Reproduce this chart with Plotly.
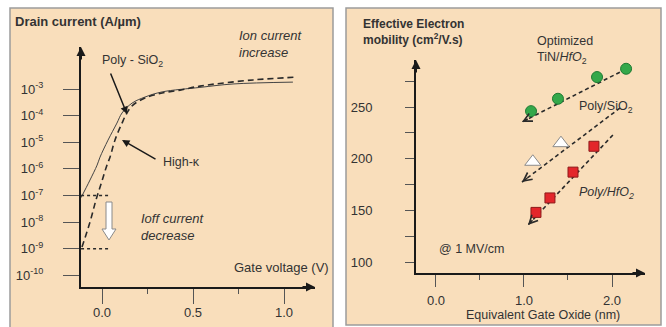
import plotly.graph_objects as go

W, H = 666, 327

# ---- Left panel: drain current vs gate voltage ----
vg_poly = [-0.115, -0.066, -0.027, -0.011, 0.033, 0.082, 0.110, 0.165, 0.236, 0.330, 0.538, 0.720, 1.049]
id_poly = [8.3e-8, 3.8e-7, 1.38e-6, 2.75e-6, 1.2e-5, 5.25e-5, 1.26e-4, 2.95e-4, 5.0e-4, 7.8e-4, 1.15e-3, 1.55e-3, 1.82e-3]

vg_highk = [-0.110, -0.066, -0.033, 0.0, 0.027, 0.044, 0.071, 0.110, 0.137, 0.170, 0.236, 0.330, 0.429, 0.538, 0.830, 1.071]
id_highk = [1.15e-9, 1.0e-8, 6.8e-8, 3.5e-7, 1.38e-6, 2.75e-6, 1.2e-5, 5.25e-5, 1.26e-4, 2.5e-4, 4.6e-4, 7.1e-4, 9.1e-4, 1.29e-3, 2.2e-3, 2.8e-3]

# off-current reference levels and the gate-voltage span they are marked over
ioff_levels = [1e-7, 1e-9]
ioff_vg = [-0.115, 0.044]

id_exponents = [-3, -4, -5, -6, -7, -8, -9, -10]
vg_ticks = [0.0, 0.5, 1.0]
vg_minor = [0.25, 0.75]

# ---- Right panel: mobility vs equivalent oxide thickness ----
eot_tin = [1.08, 1.386, 1.83, 2.16]
mu_tin = [246, 258, 279, 287]
eot_sio2 = [1.10, 1.42]
mu_sio2 = [197, 215]
eot_hfo2 = [1.136, 1.295, 1.557, 1.795]
mu_hfo2 = [148, 162, 187, 212]

# trend lines (start, arrow tip)
trend_tin_x = [2.16, 0.977]
trend_tin_y = [286.8, 235.5]
trend_sio2_x = [2.09, 0.977]
trend_sio2_y = [249, 177.4]
trend_hfo2_x = [2.01, 1.045]
trend_hfo2_y = [222.9, 135.8]

eot_ticks = [0.0, 1.0, 2.0]
eot_minor = [0.5, 1.5]
mu_ticks = [100, 150, 200, 250]
mu_minor = [125, 175, 225, 275]

PANEL = "#F9DEBB"
BORDER = "#9C9C9C"
INK = "#333333"
FONT = "Liberation Sans, Arial, sans-serif"


def px(x):
    return x / W


def py(y):
    return 1 - y / H


fig = go.Figure()

fig.add_trace(go.Scatter(x=vg_poly, y=id_poly, mode="lines",
                         line=dict(color="#444444", width=1, shape="spline"),
                         xaxis="x", yaxis="y", showlegend=False))
fig.add_trace(go.Scatter(x=vg_highk, y=id_highk, mode="lines",
                         line=dict(color="#2a2a2a", width=1.6, shape="spline", dash="6px,4px"),
                         xaxis="x", yaxis="y", showlegend=False))
for lvl in ioff_levels:
    fig.add_trace(go.Scatter(x=ioff_vg, y=[lvl, lvl], mode="lines",
                             line=dict(color="#2a2a2a", width=1.4, dash="3px,3px"),
                             xaxis="x", yaxis="y", showlegend=False))

# trend lines on the right panel
for tx, ty in [(trend_tin_x, trend_tin_y), (trend_sio2_x, trend_sio2_y), (trend_hfo2_x, trend_hfo2_y)]:
    fig.add_trace(go.Scatter(x=tx, y=ty, mode="lines",
                             line=dict(color="#2a2a2a", width=1.6, dash="4px,3px"),
                             xaxis="x2", yaxis="y2", showlegend=False))

fig.add_trace(go.Scatter(x=eot_tin, y=mu_tin, mode="markers",
                         marker=dict(symbol="circle", size=11, color="#34A84A",
                                     line=dict(color="#1E7A32", width=1)),
                         xaxis="x2", yaxis="y2", showlegend=False))
fig.add_trace(go.Scatter(x=eot_sio2, y=mu_sio2, mode="markers",
                         marker=dict(symbol="triangle-up", size=14, color="#FFFFFF",
                                     line=dict(color="#8A8A8A", width=1)),
                         xaxis="x2", yaxis="y2", showlegend=False))
fig.add_trace(go.Scatter(x=eot_hfo2, y=mu_hfo2, mode="markers",
                         marker=dict(symbol="square", size=10, color="#E3262B",
                                     line=dict(color="#8E1A1A", width=1)),
                         xaxis="x2", yaxis="y2", showlegend=False))

tickfont = dict(family=FONT, size=13, color=INK)

fig.update_layout(
    width=W, height=H, margin=dict(l=0, r=0, t=0, b=0),
    paper_bgcolor="white", plot_bgcolor="rgba(0,0,0,0)",
    font=dict(family=FONT, color=INK),
    xaxis=dict(domain=[px(81), px(315)], range=[-0.1154, 1.1703],
               showgrid=False, zeroline=False, showline=True, linecolor="#1a1a1a", linewidth=2,
               ticks="outside", ticklen=15, tickwidth=1, tickcolor="#555555",
               tickvals=vg_ticks, ticktext=[f"{v:.1f}" for v in vg_ticks], tickfont=tickfont,
               ticklabelstandoff=-3,
               minor=dict(tickvals=vg_minor, ticklen=5, ticks="outside", tickcolor="#555555", tickwidth=1),
               anchor="y", fixedrange=True),
    yaxis=dict(domain=[py(287), py(47)], type="log", range=[-10.44, -1.42],
               showgrid=False, zeroline=False, showline=True, linecolor="#1a1a1a", linewidth=2,
               ticks="outside", ticklen=16, tickwidth=1, tickcolor="#555555",
               tickvals=[10.0 ** e for e in id_exponents],
               ticktext=[f"10<sup>{e}</sup>" for e in id_exponents], tickfont=tickfont,
               ticklabelstandoff=17,
               anchor="x", fixedrange=True),
    xaxis2=dict(domain=[px(416), px(645)], range=[-0.227, 2.375],
                showgrid=False, zeroline=False, showline=True, linecolor="#1a1a1a", linewidth=2,
                ticks="outside", ticklen=12, tickwidth=1, tickcolor="#555555",
                tickvals=eot_ticks, ticktext=[f"{v:.1f}" for v in eot_ticks], tickfont=tickfont,
                ticklabelstandoff=2,
                minor=dict(tickvals=eot_minor, ticklen=5, ticks="outside", tickcolor="#555555", tickwidth=1),
                anchor="y2", fixedrange=True),
    yaxis2=dict(domain=[py(273), py(60)], range=[89.35, 295.5],
                showgrid=False, zeroline=False, showline=True, linecolor="#1a1a1a", linewidth=2,
                ticks="outside", ticklen=9, tickwidth=1, tickcolor="#555555",
                tickvals=mu_ticks, tickfont=tickfont, ticklabelstandoff=30,
                minor=dict(tickvals=mu_minor, ticklen=9, ticks="outside", tickcolor="#555555", tickwidth=1),
                anchor="x2", fixedrange=True),
)

# panel backgrounds
fig.add_shape(type="rect", xref="paper", yref="paper", layer="below",
              x0=px(10), x1=px(333), y0=py(345), y1=py(8),
              fillcolor=PANEL, line=dict(color=BORDER, width=1.5))
fig.add_shape(type="rect", xref="paper", yref="paper", layer="below",
              x0=px(346), x1=px(661), y0=py(325), y1=py(8),
              fillcolor=PANEL, line=dict(color=BORDER, width=1.5))

# hollow down arrow marking the off-current drop
arrow_pts = [(106, 202), (112, 202), (112, 229), (116, 229), (109, 240), (102, 229), (106, 229)]
path = "M " + " L ".join(f"{px(x):.5f},{py(y):.5f}" for x, y in arrow_pts) + " Z"
fig.add_shape(type="path", xref="paper", yref="paper", path=path,
              fillcolor="white", line=dict(color="#8A8A8A", width=1))

annotations = []


def label(text, x, y, size=13, bold=False, italic=False, xanchor="left", align="left"):
    t = text
    if italic:
        t = f"<i>{t}</i>"
    if bold:
        t = f"<b>{t}</b>"
    annotations.append(dict(text=t, x=px(x), y=py(y), xref="paper", yref="paper",
                            xanchor=xanchor, yanchor="middle", align=align, showarrow=False,
                            font=dict(family=FONT, size=size, color=INK)))


def head(x, y, ax, ay, width=2, size=0.9, style=2):
    # arrow pointing to paper pixel (x, y) from pixel offset (ax, ay)
    annotations.append(dict(text="", x=px(x), y=py(y), xref="paper", yref="paper",
                            ax=ax, ay=ay, showarrow=True, arrowhead=style,
                            arrowsize=size, arrowwidth=width, arrowcolor="#1a1a1a",
                            standoff=0, startstandoff=0))


# left panel text
label("Drain current (A/µm)", 13, 22, size=13, bold=True)
label("Poly - SiO<sub>2</sub>", 100, 61, size=12.5)
label("Ion current<br>increase", 237, 44, size=13, italic=True)
label("High-κ", 161, 162, size=12.5)
label("Ioff current<br>decrease", 139, 227, size=13, italic=True)
label("Gate voltage (V)", 232, 267, size=13)

# right panel text
label("Effective Electron<br>mobility (cm<sup>2</sup>/V.s)", 361, 32, size=12, bold=True)
label("Optimized<br>TiN/<i>HfO</i><sub>2</sub>", 535, 50, size=12.5)
label("Poly/SiO<sub>2</sub>", 577, 107, size=12.5)
label("Poly/HfO<sub>2</sub>", 577, 193, size=12.5, italic=True)
label("@ 1 MV/cm", 437, 249, size=12.5)
label("Equivalent Gate Oxide (nm)", 543, 315, size=12.5, xanchor="center")

# axis arrowheads
head(81, 47, 0, 14)
head(315, 287, -14, 0)
head(416, 60, 0, 14)
head(645, 273, -14, 0)

# pointer arrows
head(127, 114, -17, -42, width=1.5, size=1.0)
head(122, 140, 35, 20, width=1.5, size=1.0)

# open arrowheads at the low ends of the trend lines
for tx, ty in [(trend_tin_x, trend_tin_y), (trend_sio2_x, trend_sio2_y), (trend_hfo2_x, trend_hfo2_y)]:
    annotations.append(dict(text="", x=tx[1], y=ty[1], xref="x2", yref="y2",
                            axref="x2", ayref="y2",
                            ax=tx[1] + 0.07 * (tx[0] - tx[1]), ay=ty[1] + 0.07 * (ty[0] - ty[1]),
                            showarrow=True, arrowhead=5, arrowsize=1.1, arrowwidth=1.5,
                            arrowcolor="#2a2a2a", standoff=0, startstandoff=0))

fig.update_layout(annotations=annotations)

fig.write_html("out.html")
